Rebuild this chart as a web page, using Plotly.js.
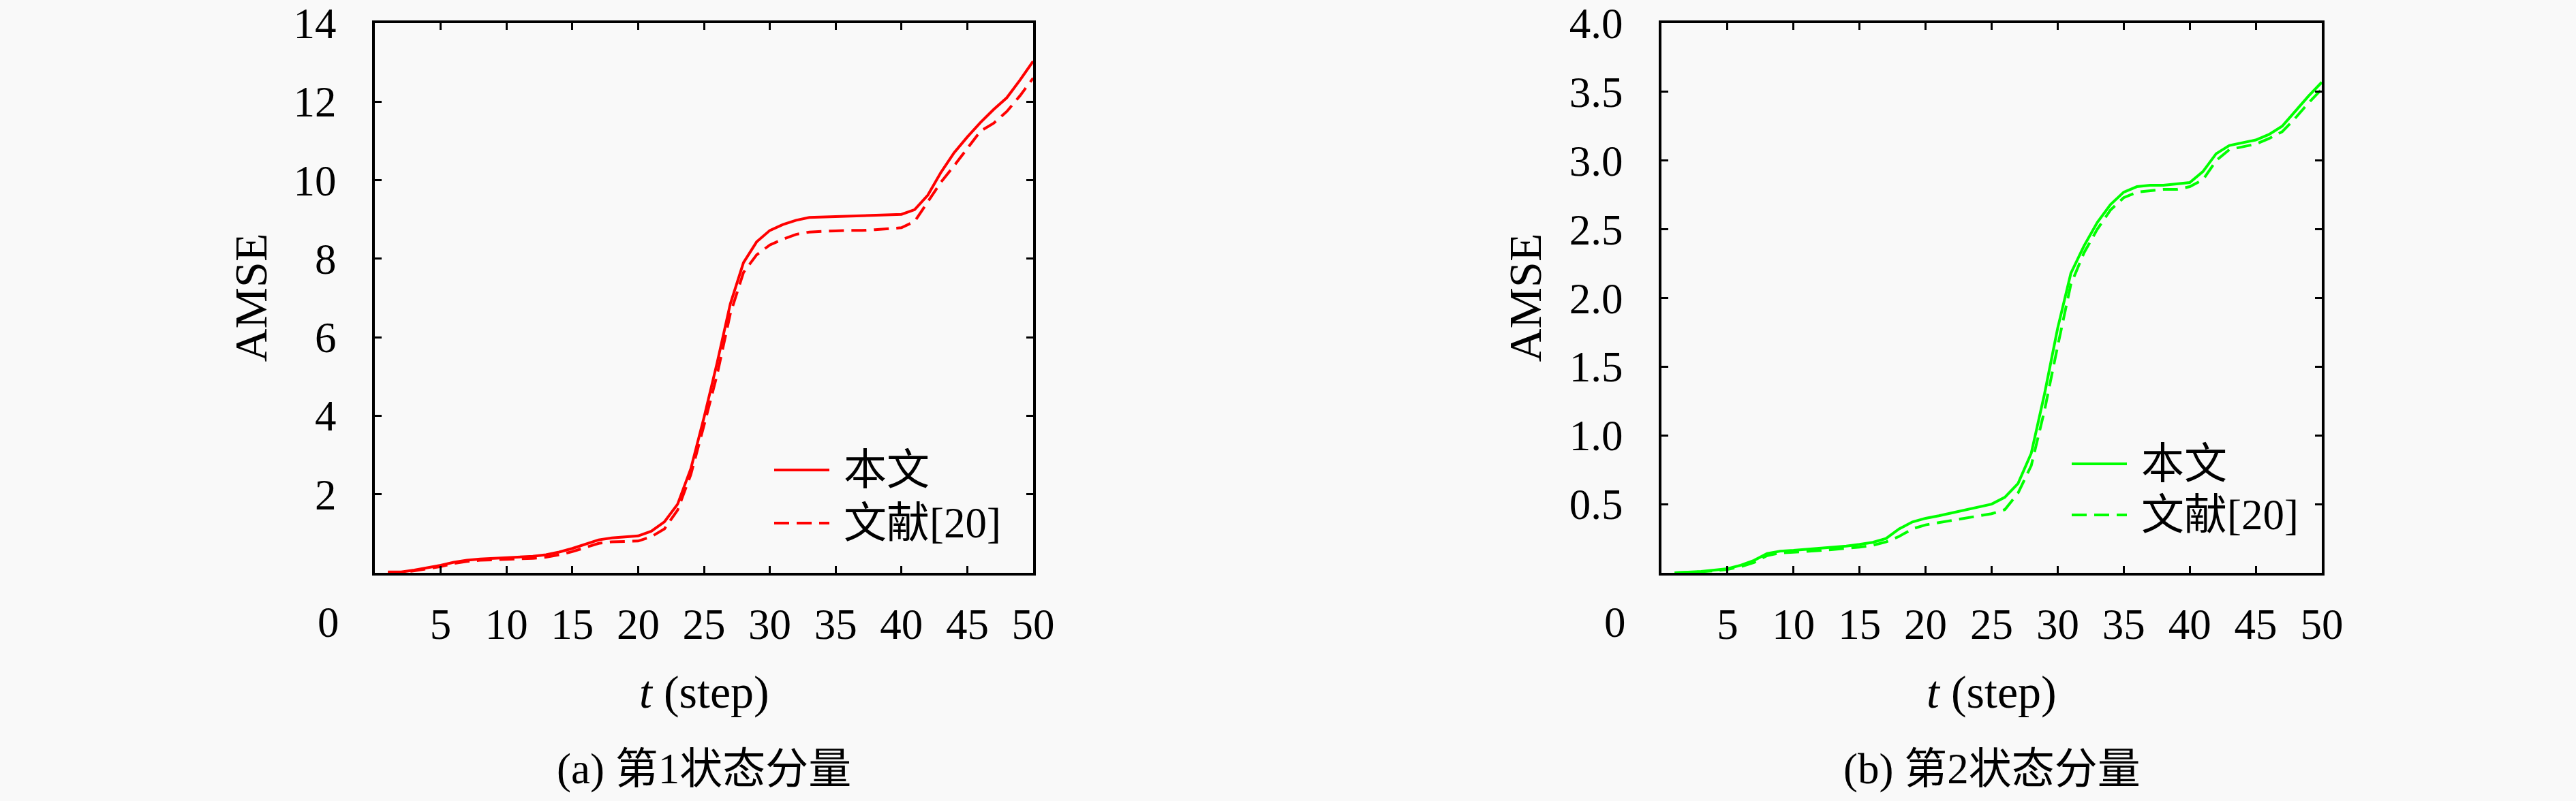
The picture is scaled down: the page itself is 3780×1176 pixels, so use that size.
<!DOCTYPE html>
<html>
<head>
<meta charset="utf-8">
<script src="https://cdn.plot.ly/plotly-3.0.1.min.js"></script>
<style>
  html, body { margin: 0; padding: 0; background: #f9f9f9; }
  #chart { width: 3780px; height: 1176px; }
</style>
</head>
<body>
<div id="chart"></div>
<script>
// time steps
var steps = [1, 2, 3, 4, 5, 6, 7, 8, 9, 10,
             11, 12, 13, 14, 15, 16, 17, 18, 19, 20,
             21, 22, 23, 24, 25, 26, 27, 28, 29, 30,
             31, 32, 33, 34, 35, 36, 37, 38, 39, 40,
             41, 42, 43, 44, 45, 46, 47, 48, 49, 50];

// (a) state component 1
var amse1Ours = [0.02, 0.02, 0.07, 0.13, 0.19, 0.27, 0.32, 0.35, 0.37, 0.38,
                 0.40, 0.42, 0.46, 0.53, 0.62, 0.73, 0.84, 0.89, 0.91, 0.94,
                 1.06, 1.30, 1.75, 2.65, 3.95, 5.35, 6.85, 7.90, 8.43, 8.72,
                 8.87, 8.98, 9.05, 9.06, 9.07, 9.08, 9.10, 9.11, 9.12, 9.13,
                 9.25, 9.62, 10.20, 10.70, 11.10, 11.47, 11.80, 12.10, 12.55, 13.03];
var amse1Ref  = [0.01, 0.01, 0.05, 0.11, 0.16, 0.24, 0.29, 0.32, 0.33, 0.34,
                 0.35, 0.37, 0.40, 0.46, 0.54, 0.65, 0.75, 0.79, 0.80, 0.81,
                 0.92, 1.12, 1.60, 2.50, 3.75, 5.05, 6.60, 7.65, 8.10, 8.35,
                 8.50, 8.62, 8.68, 8.70, 8.71, 8.72, 8.72, 8.74, 8.76, 8.79,
                 8.95, 9.45, 9.95, 10.37, 10.82, 11.25, 11.45, 11.75, 12.15, 12.60];

// (b) state component 2
var amse2Ours = [0.000, 0.003, 0.010, 0.020, 0.030, 0.055, 0.090, 0.140, 0.158, 0.163,
                 0.170, 0.178, 0.185, 0.195, 0.207, 0.222, 0.250, 0.320, 0.370, 0.397,
                 0.415, 0.435, 0.458, 0.480, 0.500, 0.550, 0.650, 0.870, 1.300, 1.780,
                 2.180, 2.380, 2.550, 2.680, 2.770, 2.810, 2.820, 2.820, 2.830, 2.840,
                 2.920, 3.050, 3.110, 3.130, 3.150, 3.190, 3.250, 3.360, 3.470, 3.570];
var amse2Ref  = [0.000, 0.002, 0.008, 0.015, 0.025, 0.045, 0.075, 0.125, 0.145, 0.150,
                 0.155, 0.162, 0.170, 0.178, 0.187, 0.200, 0.225, 0.265, 0.320, 0.349,
                 0.365, 0.380, 0.395, 0.415, 0.430, 0.460, 0.580, 0.780, 1.180, 1.650,
                 2.100, 2.330, 2.500, 2.640, 2.730, 2.770, 2.780, 2.790, 2.790, 2.810,
                 2.860, 3.000, 3.080, 3.100, 3.120, 3.160, 3.210, 3.310, 3.420, 3.520];

var xTicks = [5, 10, 15, 20, 25, 30, 35, 40, 45, 50];
var yTicks1 = [2, 4, 6, 8, 10, 12, 14];
var yTicks2 = [0.5, 1.0, 1.5, 2.0, 2.5, 3.0, 3.5, 4.0];
var seriesNames = ["本文", "文献[20]"];
var panelTitles = ["(a) 第1状态分量", "(b) 第2状态分量"];

var W = 3780, H = 1176;
var FONT = "'Liberation Serif', 'Noto Sans CJK SC', serif";
var red = "#ff0000", green = "#00ff00";
var dash = "22px,11px";

// pixel boxes of the two plot frames
var boxA = {l: 550, r: 1516, t: 34, b: 841};
var boxB = {l: 2438, r: 3407, t: 34, b: 841};

function px(v) { return v / W; }
function py(v) { return 1 - v / H; }

var data = [
  {x: steps, y: amse1Ours, xaxis: "x", yaxis: "y", mode: "lines", name: seriesNames[0],
   line: {color: red, width: 4}, showlegend: false},
  {x: steps, y: amse1Ref, xaxis: "x", yaxis: "y", mode: "lines", name: seriesNames[1],
   line: {color: red, width: 4, dash: dash}, showlegend: false},
  {x: steps, y: amse2Ours, xaxis: "x2", yaxis: "y2", mode: "lines", name: seriesNames[0],
   line: {color: green, width: 4}, showlegend: false},
  {x: steps, y: amse2Ref, xaxis: "x2", yaxis: "y2", mode: "lines", name: seriesNames[1],
   line: {color: green, width: 4, dash: dash}, showlegend: false}
];

function xAxis(box) {
  return {
    domain: [px(box.l), px(box.r)], range: [0, 50],
    tickmode: "array", tickvals: xTicks,
    ticks: "inside", ticklen: 10, tickwidth: 3, tickcolor: "#000",
    showline: true, linewidth: 4, linecolor: "#000", mirror: "allticks",
    showgrid: false, zeroline: false,
    tickfont: {family: FONT, size: 63, color: "#000"},
    ticklabelstandoff: 17
  };
}
function yAxis(box, anchor, range, vals, fmt) {
  return {
    domain: [py(box.b), py(box.t)], range: range, anchor: anchor,
    tickmode: "array", tickvals: vals, tickformat: fmt,
    ticks: "inside", ticklen: 10, tickwidth: 3, tickcolor: "#000",
    showline: true, linewidth: 4, linecolor: "#000", mirror: "allticks",
    showgrid: false, zeroline: false,
    tickfont: {family: FONT, size: 63, color: "#000"},
    ticklabelstandoff: 40
  };
}

var annotations = [];
var shapes = [];

function panelText(box, title, legendColor, leg) {
  var cx = (box.l + box.r) / 2;
  annotations.push({xref: "paper", yref: "paper", x: px(box.l - 50), y: py(914),
    xanchor: "right", yanchor: "middle", text: "0", showarrow: false,
    font: {family: FONT, size: 63, color: "#000"}});
  annotations.push({xref: "paper", yref: "paper", x: px(cx), y: py(1016),
    xanchor: "center", yanchor: "middle", text: "<i>t</i> (step)", showarrow: false,
    font: {family: FONT, size: 68, color: "#000"}});
  annotations.push({xref: "paper", yref: "paper", x: px(cx), y: py(1129),
    xanchor: "center", yanchor: "middle", text: title, showarrow: false,
    font: {family: FONT, size: 63, color: "#000"}});
  annotations.push({xref: "paper", yref: "paper", x: px(box.l - leg.yt), y: py((box.t + box.b) / 2),
    xanchor: "center", yanchor: "middle", text: "AMSE", textangle: -90, showarrow: false,
    font: {family: FONT, size: 68, color: "#000"}});

  // legend drawn inside the frame
  [leg.row1, leg.row2].forEach(function (rowY, i) {
    shapes.push({type: "line", xref: "paper", yref: "paper",
      x0: px(leg.x0), x1: px(leg.x0 + 81), y0: py(rowY), y1: py(rowY),
      line: {color: legendColor, width: 4, dash: i === 0 ? "solid" : dash}});
    annotations.push({xref: "paper", yref: "paper", x: px(leg.x0 + 100), y: py(rowY),
      xanchor: "left", yanchor: "middle", text: seriesNames[i], showarrow: false,
      font: {family: FONT, size: 63, color: "#000"}});
  });
}

panelText(boxA, panelTitles[0], red, {x0: 1136, row1: 690, row2: 768, yt: 183});
panelText(boxB, panelTitles[1], green, {x0: 3040, row1: 681, row2: 756, yt: 201});

var layout = {
  width: W, height: H,
  margin: {l: 0, r: 0, t: 0, b: 0},
  paper_bgcolor: "#f9f9f9", plot_bgcolor: "#f9f9f9",
  font: {family: FONT, color: "#000"},
  xaxis: Object.assign(xAxis(boxA), {anchor: "y"}),
  yaxis: yAxis(boxA, "x", [0, 14], yTicks1, ""),
  xaxis2: Object.assign(xAxis(boxB), {anchor: "y2"}),
  yaxis2: yAxis(boxB, "x2", [0, 4], yTicks2, ".1f"),
  annotations: annotations,
  shapes: shapes,
  showlegend: false
};

Plotly.newPlot("chart", data, layout, {staticPlot: true, displayModeBar: false});
</script>
</body>
</html>
